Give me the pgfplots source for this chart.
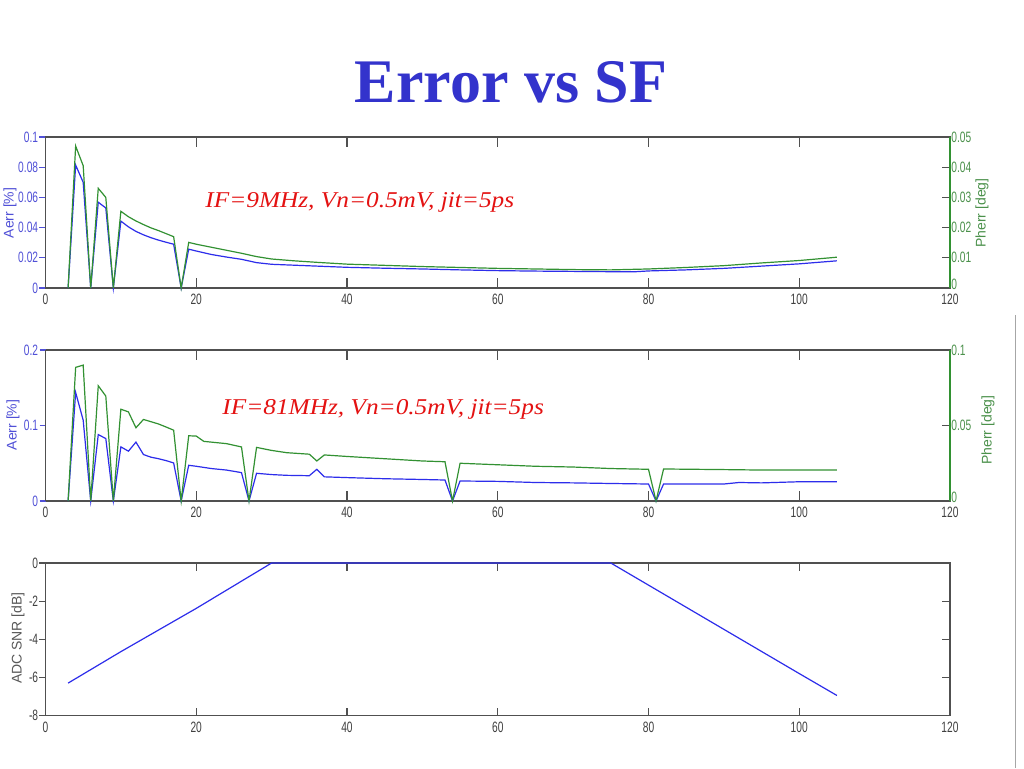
\documentclass[border=0pt]{standalone}
\usepackage{fontspec}
\setmainfont{Liberation Serif}
\newfontfamily\lsans{Liberation Sans}
\usepackage{graphicx}
\usepackage{pgfplots}
\pgfplotsset{compat=1.18}
\usepackage{pgfplotstable}

\definecolor{lblue}{RGB}{45,45,235}
\definecolor{lgreen}{RGB}{50,145,50}
\definecolor{tblue}{RGB}{80,80,215}
\definecolor{tgreen}{RGB}{75,145,75}
\definecolor{framec}{RGB}{80,80,80}
\definecolor{titleblue}{RGB}{51,51,204}
\definecolor{annred}{RGB}{228,18,18}
\newcommand\tl[1]{\scalebox{0.68}[1]{#1}}
\newcommand\tlz{\raisebox{-0.6pt}[0pt][0pt]{\scalebox{0.68}[1]{0}}}

\pgfplotstableread{
x y
3 0
4 0.0814
5 0.070
6 0
7 0.0568
8 0.053
9 0
10 0.0443
11 0.0405
12 0.0375
13 0.0352
14 0.0333
15 0.0317
16 0.0303
17 0.029
18 0
19 0.0257
20 0.0245
22 0.0222
24 0.0205
26 0.0190
28 0.0168
30 0.0157
33 0.0151
36 0.0145
40 0.0137
45 0.0131
50 0.0126
55 0.0120
60 0.0115
65 0.0112
70 0.0110
75 0.0108
78 0.0107
80 0.0113
85 0.0120
90 0.0130
95 0.0145
100 0.0160
105 0.0180
}\pa
\pgfplotstableread{
x y
3 0
4 0.047
5 0.0405
6 0
7 0.033
8 0.030
9 0
10 0.0254
11 0.0236
12 0.0222
13 0.0210
14 0.0199
15 0.0190
16 0.0180
17 0.0170
18 0
19 0.0151
20 0.0145
22 0.0135
24 0.0125
26 0.0115
28 0.0104
30 0.0096
33 0.0090
36 0.0085
40 0.0079
45 0.0075
50 0.0071
55 0.0068
60 0.0065
65 0.0063
70 0.0061
75 0.0060
80 0.0063
85 0.0068
90 0.0074
95 0.0083
100 0.0091
105 0.0102
}\pb
\pgfplotstableread{
x y
3 0
4 0.1438
5 0.107
6 0
7 0.088
8 0.0827
9 0
10 0.0717
11 0.066
12 0.078
13 0.0615
14 0.058
15 0.056
16 0.0535
17 0.0504
18 0
19 0.0473
20 0.046
22 0.043
24 0.041
26 0.0376
27 0
28 0.0367
30 0.035
32 0.034
35 0.0335
36 0.042
37 0.032
40 0.031
45 0.0295
50 0.0285
53 0.0278
54 0
55 0.0265
60 0.026
65 0.0245
70 0.024
75 0.0232
80 0.0225
81 0
82 0.0225
90 0.0225
92 0.0245
95 0.024
100 0.0255
105 0.0256
}\pc
\pgfplotstableread{
x y
3 0
4 0.0885
5 0.090
6 0
7 0.0763
8 0.0695
9 0
10 0.0608
11 0.059
12 0.0485
13 0.054
14 0.0525
15 0.051
16 0.049
17 0.0469
18 0
19 0.0432
20 0.043
21 0.0395
22 0.039
24 0.038
26 0.0358
27 0
28 0.0355
30 0.0335
32 0.032
35 0.031
36 0.0265
37 0.0305
40 0.0295
45 0.028
50 0.0265
53 0.026
54 0
55 0.025
60 0.024
65 0.023
70 0.0225
75 0.0215
80 0.021
81 0
82 0.0212
90 0.0208
95 0.0205
100 0.0205
105 0.0205
}\pd
\pgfplotstableread{
x y
3 -6.3
10 -4.65
20 -2.38
30 0
75 0
80 -1.16
90 -3.48
100 -5.8
105 -6.95
}\pe

\pgfplotsset{
 base/.style={scale only axis, width=452.25pt, xmin=0, xmax=120, anchor=south west,
   scaled ticks=false, clip=false,
   tick label style={font=\lsans\fontsize{7.5}{7.5}\selectfont},
   major tick length=5pt},
 frameax/.style={base, xtick={0,20,40,60,80,100,120},
   xticklabels={\tl{0},\tl{20},\tl{40},\tl{60},\tl{80},\tl{100},\tl{120}},
   tick align=inside,
   axis line style={draw=framec, line width=0.8pt},
   xtick style={draw=framec, line width=0.6pt},
   ytick style={draw=framec, line width=0.6pt},
   xticklabel style={text=black!75, inner sep=1pt, yshift=-2pt}},
 leftax/.style={base, axis x line=none, axis y line*=left, tick align=outside,
   major tick length=3pt, y axis line style={draw=framec, line width=0.8pt, -},
   ytick style={draw=tblue, line width=0.6pt},
   yticklabel style={text=tblue, inner sep=0.5pt}},
 rightax/.style={base, axis x line=none, axis y line*=right, tick align=inside,
   major tick length=4pt, y axis line style={draw=lgreen, line width=0.8pt, -},
   ytick style={draw=framec, line width=0.6pt},
   yticklabel style={text=tgreen, inner sep=0pt, xshift=0.5pt}},
}

\begin{document}
\begin{tikzpicture}
\useasboundingbox (0,0) rectangle (512pt,384pt);
\fill[white] (0,0) rectangle (512pt,384pt);

% ---------- Panel 1
\begin{axis}[frameax, at={(22.75pt,240pt)}, height=75.5pt, ymin=0, ymax=0.1, ytick=\empty]
\end{axis}
\begin{axis}[leftax, at={(22.75pt,240pt)}, height=75.5pt, ymin=0, ymax=0.1,
  ytick={0,0.02,0.04,0.06,0.08,0.1},
  yticklabels={\tl{0},\tl{0.02},\tl{0.04},\tl{0.06},\tl{0.08},\tl{0.1}}]
\addplot[lblue, line width=0.6pt] table[x=x,y=y] {\pa};
\end{axis}
\begin{axis}[rightax, at={(22.75pt,240pt)}, height=75.5pt, ymin=0, ymax=0.05,
  ytick={0,0.01,0.02,0.03,0.04,0.05},
  yticklabels={\tlz,\tl{0.01},\tl{0.02},\tl{0.03},\tl{0.04},\tl{0.05}}]
\addplot[lgreen, line width=0.6pt] table[x=x,y=y] {\pb};
\end{axis}

% ---------- Panel 2
\begin{axis}[frameax, at={(22.75pt,133.5pt)}, height=75.5pt, ymin=0, ymax=0.2, ytick=\empty]
\end{axis}
\begin{axis}[leftax, at={(22.75pt,133.5pt)}, height=75.5pt, ymin=0, ymax=0.2,
  ytick={0,0.1,0.2}, yticklabels={\tl{0},\tl{0.1},\tl{0.2}}]
\addplot[lblue, line width=0.6pt] table[x=x,y=y] {\pc};
\end{axis}
\begin{axis}[rightax, at={(22.75pt,133.5pt)}, height=75.5pt, ymin=0, ymax=0.1,
  ytick={0,0.05,0.1}, yticklabels={\tlz,\tl{0.05},\tl{0.1}}]
\addplot[lgreen, line width=0.6pt] table[x=x,y=y] {\pd};
\end{axis}

% ---------- Panel 3
\begin{axis}[frameax, at={(22.75pt,26.25pt)}, height=76.25pt, ymin=-8, ymax=0,
  ytick={-8,-6,-4,-2,0}, ytick pos=right, yticklabels={}, major tick length=4pt]
\end{axis}
\begin{axis}[leftax, at={(22.75pt,26.25pt)}, height=76.25pt, ymin=-8, ymax=0,
  ytick={-8,-6,-4,-2,0},
  yticklabels={\tl{-8},\tl{-6},\tl{-4},\tl{-2},\tl{0}},
  ytick style={draw=framec}, yticklabel style={text=black!75}]
\addplot[lblue, line width=0.6pt] table[x=x,y=y] {\pe};
\end{axis}

% ---------- Texts
\node[anchor=base, font=\fontsize{31}{31}\selectfont\bfseries, text=titleblue] at (255.5pt,333pt) {Error vs SF};
\node[anchor=base west, inner sep=0pt, text=annred] at (102.5pt,280pt) {\scalebox{1.12}[1]{\fontsize{11.3}{13}\selectfont\itshape IF=9MHz, Vn=0.5mV, jit=5ps}};
\node[anchor=base west, inner sep=0pt, text=annred] at (111pt,177pt) {\scalebox{1.12}[1]{\fontsize{11.3}{13}\selectfont\itshape IF=81MHz, Vn=0.5mV, jit=5ps}};

\node[rotate=90, text=tblue, font=\lsans\fontsize{7}{7}\selectfont, inner sep=0pt] at (5pt,277.5pt) {Aerr [\%]};
\node[rotate=90, text=tgreen, font=\lsans\fontsize{7}{7}\selectfont, inner sep=0pt] at (491pt,277.5pt) {Pherr [deg]};
\node[rotate=90, text=tblue, font=\lsans\fontsize{7}{7}\selectfont, inner sep=0pt] at (6.5pt,171.5pt) {Aerr [\%]};
\node[rotate=90, text=tgreen, font=\lsans\fontsize{7}{7}\selectfont, inner sep=0pt] at (494pt,169pt) {Pherr [deg]};
\node[rotate=90, text=black!65, font=\lsans\fontsize{7}{7}\selectfont, inner sep=0pt] at (9pt,65pt) {ADC SNR [dB]};

\draw[black!35, line width=0.5pt] (507.5pt,0) -- (507.5pt,226.5pt);
\end{tikzpicture}
\end{document}
